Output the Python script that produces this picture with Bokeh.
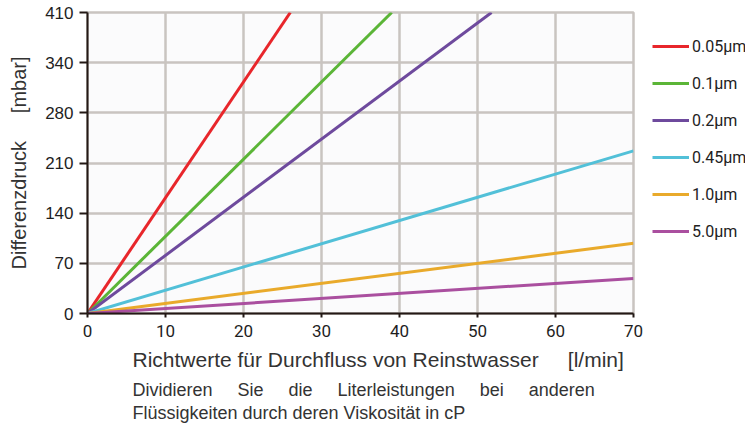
from bokeh.plotting import figure
from bokeh.layouts import row
from bokeh.models import Legend, LegendItem, FixedTicker, Range1d, Title
from bokeh.embed import file_html
from bokeh.resources import INLINE

# ---- data ----
series = ["0.05μm", "0.1μm", "0.2μm", "0.45μm", "1.0μm", "5.0μm"]
colors = ["#e8262b", "#5bb537", "#6e4a9d", "#52c0d8", "#e9aa2b", "#aa4f9f"]
flow_start = [0, 0, 0, 0, 0, 0]
dp_start = [0, 0, 0, 0, 0, 0]
flow_end = [26.0, 39.0, 51.8, 70.0, 70.0, 70.0]
dp_end = [420, 420, 420, 227, 98, 49]
x_ticks = [0, 10, 20, 30, 40, 50, 60, 70]
y_ticks = [0, 70, 140, 210, 280, 350, 420]
y_tick_labels = ["0", "70", "140", "210", "280", "340", "410"]

NB = "\u00a0"
x_title = "Richtwerte für Durchfluss von Reinstwasser" + NB * 5 + "[l/min]"
y_title = "Differenzdruck" + NB * 5 + "[mbar]"
note_words = ["Dividieren", "Sie", "die", "Literleistungen", "bei", "anderen"]
note_line1 = (NB * 5).join(note_words)
note_line2 = "Flüssigkeiten durch deren Viskosität in cP"

GRID = "#c9c4c0"
AXIS = "#231815"
NARROW = "Roboto"
ARIAL = "Liberation Sans"

p = figure(width=645, height=425, output_backend="svg", toolbar_location=None,
           x_range=Range1d(0, 70), y_range=Range1d(0, 420),
           min_border_left=87, min_border_right=12, min_border_top=12, min_border_bottom=112)
p.background_fill_color = "#fbfbfc"
p.border_fill_color = "white"
p.outline_line_color = GRID
p.outline_line_width = 2.5

for g in (p.xgrid, p.ygrid):
    g.grid_line_color = GRID
    g.grid_line_width = 2.5
p.xaxis.ticker = FixedTicker(ticks=x_ticks)
p.yaxis.ticker = FixedTicker(ticks=y_ticks)
p.yaxis.major_label_overrides = {t: l for t, l in zip(y_ticks, y_tick_labels)}

for ax in (p.xaxis, p.yaxis):
    ax.axis_line_color = AXIS
    ax.axis_line_width = 2
    ax.major_tick_line_color = AXIS
    ax.major_tick_line_width = 2
    ax.minor_tick_line_color = None
    ax.major_tick_in = 0
    ax.major_label_text_color = "#1e1e1e"
p.yaxis.major_tick_out = 8
p.yaxis.major_label_standoff = 6
p.yaxis.major_label_text_font = ARIAL
p.yaxis.major_label_text_font_size = "17px"
p.yaxis.axis_label = y_title
p.yaxis.axis_label_text_font = ARIAL
p.yaxis.axis_label_text_font_size = "20px"
p.yaxis.axis_label_text_font_style = "normal"
p.yaxis.axis_label_text_color = "#333333"
p.yaxis.axis_label_standoff = 12
p.xaxis.major_tick_out = 4
p.xaxis.major_label_standoff = 7
p.xaxis.major_label_text_font = NARROW
p.xaxis.major_label_text_font_size = "17px"

for name, c, x0, y0, x1, y1 in zip(series, colors, flow_start, dp_start, flow_end, dp_end):
    p.line([x0, x1], [y0, y1], line_color=c, line_width=3)

t1 = Title(text=x_title, align="left", offset=45, text_font=ARIAL,
           text_font_size="21px", text_font_style="normal", text_color="#333333",
           standoff=12)
t2 = Title(text=note_line1, align="left", offset=45, text_font=ARIAL,
           text_font_size="18px", text_font_style="normal", text_color="#333333",
           standoff=2)
t3 = Title(text=note_line2, align="left", offset=45, text_font=ARIAL,
           text_font_size="18px", text_font_style="normal", text_color="#333333",
           standoff=0)
p.add_layout(t1, "below")
p.add_layout(t2, "below")
p.add_layout(t3, "below")

# legend panel: a second, axis-less figure whose frame is aligned with the chart's;
# its series lines lie outside its ranges, so only the legend shows.
lg = figure(width=100, height=425, output_backend="svg", toolbar_location=None,
            x_axis_type=None, y_axis_type=None, min_border=0,
            x_range=Range1d(-10, -5), y_range=Range1d(-10, -5))
lg.outline_line_color = None
lg.background_fill_color = "white"
lg.border_fill_color = "white"
items = []
for name, c, x0, y0, x1, y1 in zip(series, colors, flow_start, dp_start, flow_end, dp_end):
    r = lg.line([x0, x1], [y0, y1], line_color=c, line_width=3)
    items.append(LegendItem(label=name, renderers=[r]))
legend = Legend(items=items, location=(7, 67), orientation="vertical",
                glyph_width=37, glyph_height=30, label_height=30, spacing=7,
                padding=0, margin=0, label_standoff=3,
                border_line_alpha=0, background_fill_alpha=0,
                label_text_font=NARROW, label_text_font_size="16px",
                label_text_color="#222222")
lg.add_layout(legend, "center")

layout = row(p, lg, spacing=0)
open("out.html", "w").write(file_html(layout, INLINE))
